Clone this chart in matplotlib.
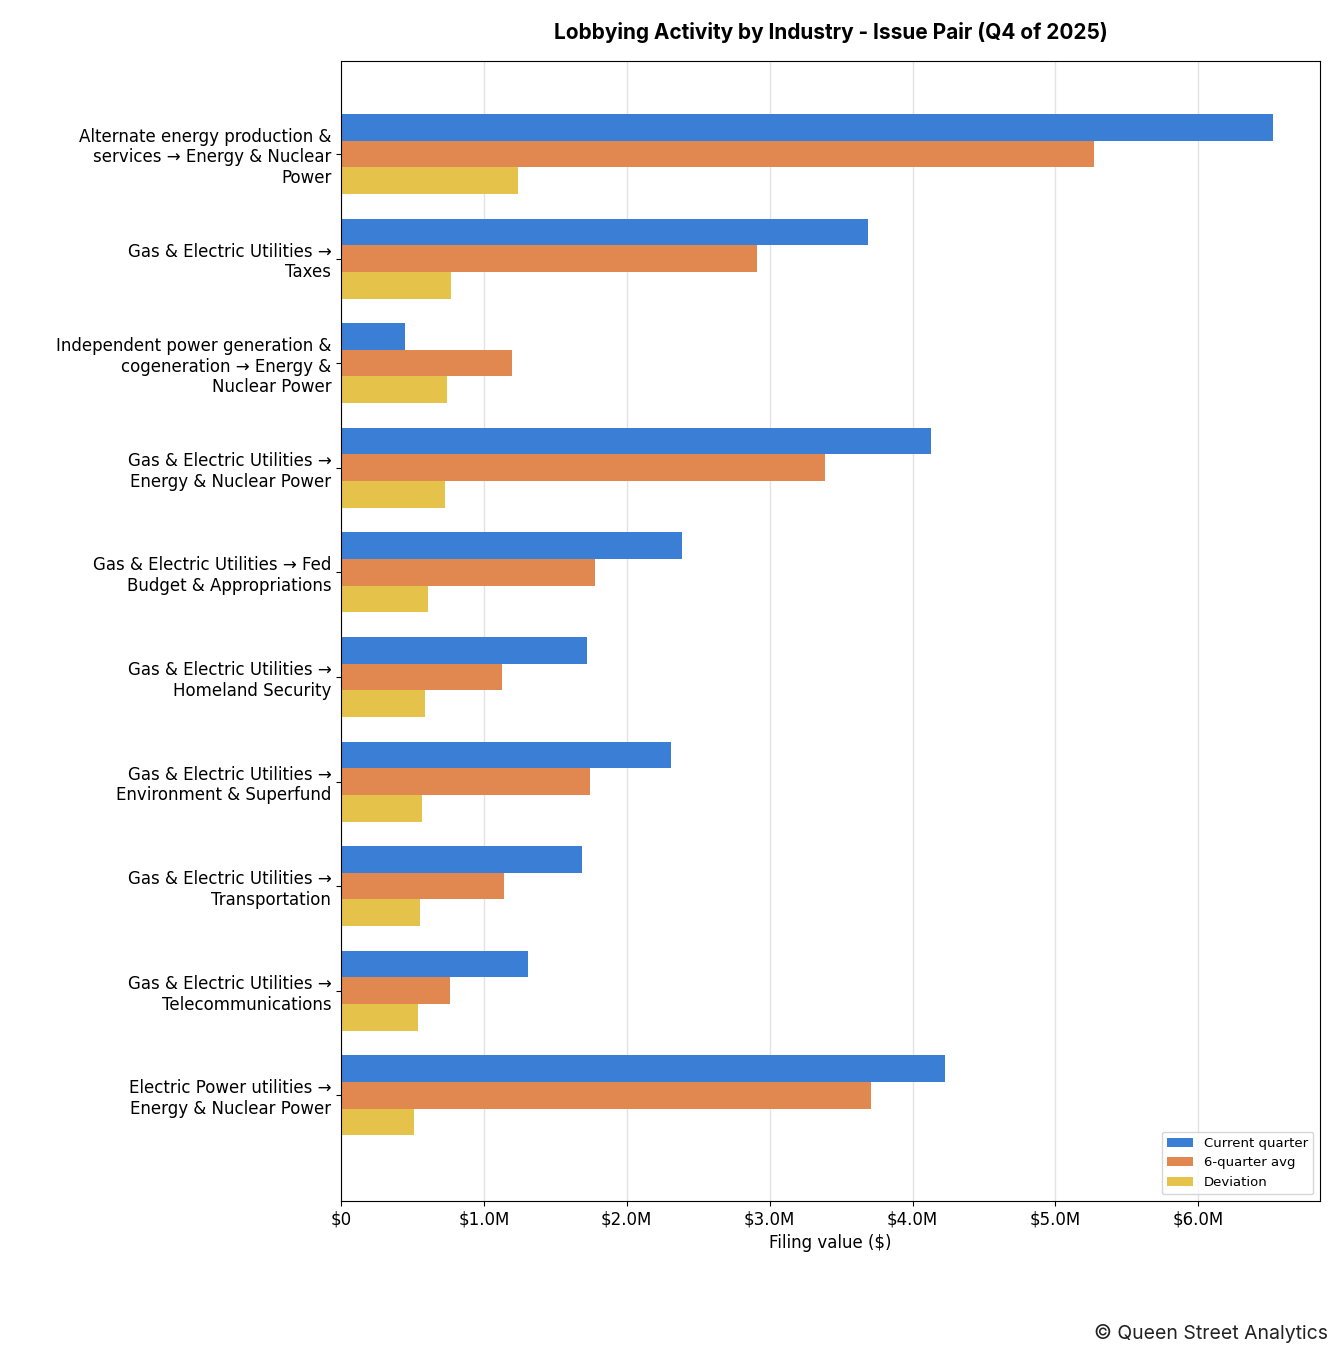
import matplotlib.pyplot as plt
import numpy as np
from matplotlib.ticker import FuncFormatter

categories = [
    "Alternate energy production &\nservices \u2192 Energy & Nuclear\nPower",
    "Gas & Electric Utilities \u2192\nTaxes",
    "Independent power generation &\ncogeneration \u2192 Energy &\nNuclear Power",
    "Gas & Electric Utilities \u2192\nEnergy & Nuclear Power",
    "Gas & Electric Utilities \u2192 Fed\nBudget & Appropriations",
    "Gas & Electric Utilities \u2192\nHomeland Security",
    "Gas & Electric Utilities \u2192\nEnvironment & Superfund",
    "Gas & Electric Utilities \u2192\nTransportation",
    "Gas & Electric Utilities \u2192\nTelecommunications",
    "Electric Power utilities \u2192\nEnergy & Nuclear Power",
]
current_quarter = [6.52, 3.69, 0.45, 4.13, 2.39, 1.72, 2.31, 1.69, 1.31, 4.23]
six_quarter_avg = [5.27, 2.91, 1.20, 3.39, 1.78, 1.13, 1.74, 1.14, 0.76, 3.71]
deviation = [1.24, 0.77, 0.74, 0.73, 0.61, 0.59, 0.57, 0.55, 0.54, 0.51]

fig = plt.figure(figsize=(13.44, 13.59), dpi=100)
ax = fig.add_axes([0.2537, 0.1163, 0.982 - 0.2537, 0.955 - 0.1163])

y = np.arange(len(categories))
h = 0.255
ax.barh(y - h, np.array(current_quarter) * 1e6, height=h, color="#3a7fd5", label="Current quarter")
ax.barh(y, np.array(six_quarter_avg) * 1e6, height=h, color="#e0884f", label="6-quarter avg")
ax.barh(y + h, np.array(deviation) * 1e6, height=h, color="#e5c34b", label="Deviation")

ax.set_yticks(y)
ax.set_yticklabels(categories, fontsize=12)
ax.set_ylim(len(categories) - 1 + 1.01, -0.887)
ax.set_xlim(0, 6.85e6)
ax.xaxis.set_major_formatter(FuncFormatter(lambda v, p: "$0" if v == 0 else f"${v/1e6:.1f}M"))
ax.tick_params(axis="x", labelsize=12)
ax.grid(axis="x", color="#e3e3e3", linewidth=1)
ax.set_axisbelow(True)
ax.set_xlabel("Filing value ($)", fontsize=12)
ax.set_title("Lobbying Activity by Industry - Issue Pair (Q4 of 2025)",
             fontsize=15, fontweight="bold", family="Inter", pad=16)
ax.legend(loc="lower right", fontsize=9.5)

fig.text(0.988, 0.012, "\u00a9 Queen Street Analytics", ha="right", va="bottom",
         fontsize=14, family="Inter", color="#222222")

fig.savefig("out.png", dpi=100)
